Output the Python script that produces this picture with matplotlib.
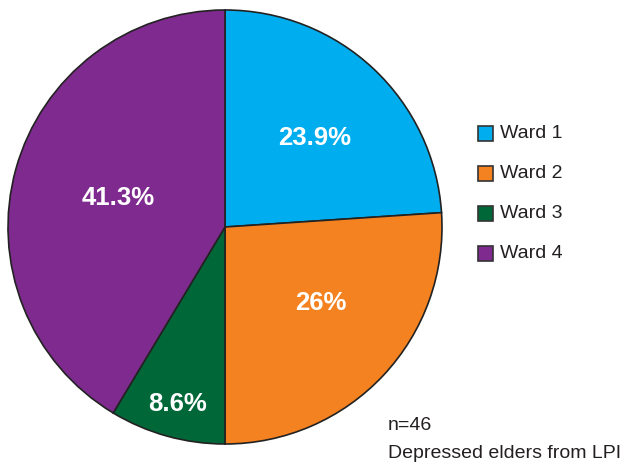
import matplotlib
matplotlib.use("Agg")
import matplotlib.pyplot as plt
import numpy as np
from matplotlib import font_manager

names = {f.name for f in font_manager.fontManager.ttflist}
fam = "Liberation Sans Narrow" if "Liberation Sans Narrow" in names else "Liberation Sans"

labels = ["Ward 1", "Ward 2", "Ward 3", "Ward 4"]
values = [23.9, 26.0, 8.6, 41.3]
pct_text = ["23.9%", "26%", "8.6%", "41.3%"]
colors = ["#00AEEF", "#F58220", "#006838", "#7F2A8E"]
note_lines = ["n=46", "Depressed elders from LPI"]

W, H = 621, 467
fig = plt.figure(figsize=(W / 100, H / 100), dpi=100)
cx, cy, r = 225, 227, 217
ax = fig.add_axes([(cx - r) / W, (H - cy - r) / H, 2 * r / W, 2 * r / H])
wedges, _ = ax.pie(values, colors=colors, startangle=90, counterclock=False,
                   wedgeprops=dict(edgecolor="#222222", linewidth=1.2))
ax.set_xlim(-1, 1); ax.set_ylim(-1, 1)
ax.set_aspect("equal")

dist = [0.585, 0.56, 0.84, 0.51]
ang_shift = [-1.5, 5.0, 0.5, 0.0]
for w, t, d, s in zip(wedges, pct_text, dist, ang_shift):
    ang = np.deg2rad((w.theta1 + w.theta2) / 2 + s)
    ax.text(d * np.cos(ang), d * np.sin(ang) - 0.005, t, ha="center", va="center",
            color="white", fontsize=18.5, fontweight="bold", family=fam)

# legend
for i, (lab, c) in enumerate(zip(labels, colors)):
    y = 133 + 40 * i
    fig.patches.append(plt.Rectangle(((478) / W, (H - y - 8) / H), 15 / W, 15 / H,
                                     transform=fig.transFigure, facecolor=c,
                                     edgecolor="#333333", linewidth=1.2))
    fig.text(500 / W, (H - y) / H, lab, ha="left", va="center", fontsize=14,
             family=fam, color="#231F20")

fig.text(388 / W, (H - 425) / H, note_lines[0], ha="left", va="center", fontsize=14,
         family=fam, color="#231F20")
fig.text(388 / W, (H - 453) / H, note_lines[1], ha="left", va="center", fontsize=14,
         family=fam, color="#231F20")

fig.savefig("out.png", dpi=100)
